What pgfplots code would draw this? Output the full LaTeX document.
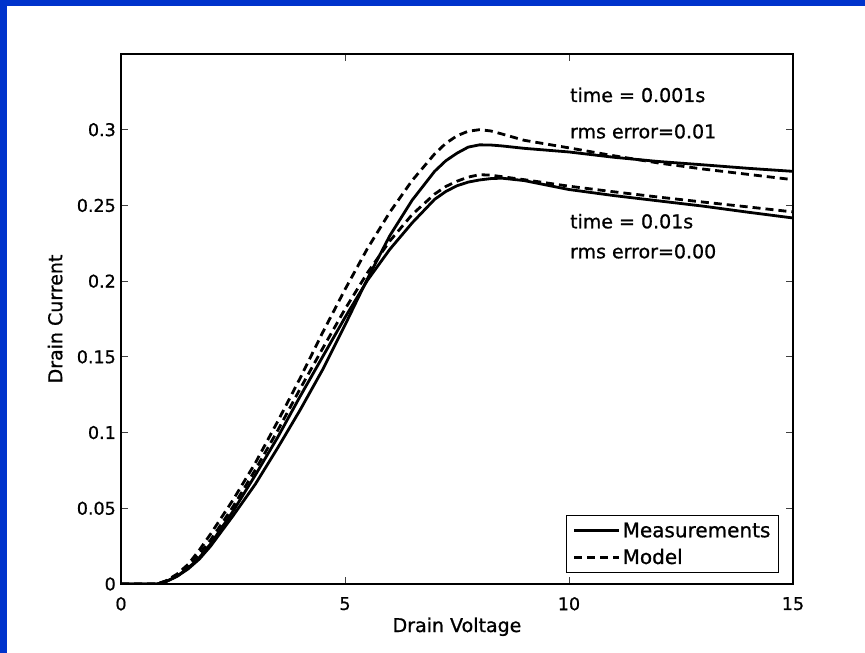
\documentclass[border=0pt]{standalone}
\usepackage{fontspec}
\setmainfont{DejaVu Sans}[FakeBold=0.9]
\usepackage{pgfplots}
\usepackage{pgfplotstable}
\pgfplotsset{compat=1.18}
\definecolor{slideblue}{RGB}{0,51,204}

% measurement, time = 0.001s
\pgfplotstableread{
x y
0 0
0.8 0
1.0 0.0015
1.25 0.005
1.5 0.010
1.75 0.0165
2.0 0.025
2.5 0.045
3.0 0.066
3.5 0.090
4.0 0.115
4.5 0.1415
5.0 0.171
5.5 0.2015
6.0 0.230
6.5 0.2535
7.0 0.2725
7.25 0.2795
7.5 0.2845
7.75 0.2885
8.0 0.290
8.25 0.2899
8.5 0.2893
9.0 0.2877
10.0 0.2853
11.0 0.2818
12.0 0.2790
13.0 0.2768
14.0 0.2745
15.0 0.2725
}\measA

% measurement, time = 0.01s
\pgfplotstableread{
x y
0 0
0.8 0
1.0 0.0015
1.25 0.0052
1.5 0.0105
1.75 0.0175
2.0 0.0265
2.5 0.048
3.0 0.072
3.5 0.097
4.0 0.124
4.5 0.150
5.0 0.176
5.5 0.2005
6.0 0.221
6.5 0.2385
7.0 0.2540
7.25 0.2592
7.5 0.2630
7.75 0.2654
8.0 0.2668
8.25 0.2677
8.5 0.2680
9.0 0.2664
10.0 0.2605
11.0 0.2565
12.0 0.2530
13.0 0.2495
14.0 0.2455
15.0 0.2417
}\measB

% model, time = 0.001s
\pgfplotstableread{
x y
0 0
0.8 0
1.0 0.002
1.25 0.0065
1.5 0.013
1.75 0.0225
2.0 0.033
2.5 0.0555
3.0 0.080
3.5 0.1075
4.0 0.136
4.5 0.166
5.0 0.1945
5.5 0.2215
6.0 0.2455
6.5 0.2665
7.0 0.2840
7.25 0.2910
7.5 0.2960
7.75 0.2990
8.0 0.3000
8.25 0.2992
8.5 0.2972
9.0 0.2930
10.0 0.2880
11.0 0.2828
12.0 0.2780
13.0 0.2740
14.0 0.2705
15.0 0.2670
}\modelA

% model, time = 0.01s
\pgfplotstableread{
x y
0 0
0.8 0
1.0 0.002
1.25 0.006
1.5 0.012
1.75 0.020
2.0 0.029
2.5 0.051
3.0 0.0755
3.5 0.1015
4.0 0.129
4.5 0.1555
5.0 0.1815
5.5 0.2055
6.0 0.2265
6.5 0.2440
7.0 0.2575
7.25 0.2625
7.5 0.2660
7.75 0.2687
8.0 0.2703
8.25 0.2700
8.5 0.2690
9.0 0.2670
10.0 0.2627
11.0 0.2590
12.0 0.2555
13.0 0.2522
14.0 0.2490
15.0 0.2457
}\modelB

\begin{document}
\begin{tikzpicture}
% slide background
\fill[white] (0,0) rectangle (865pt,653pt);
\fill[slideblue] (0,647pt) rectangle (865pt,653pt);
\fill[slideblue] (0,0) rectangle (7pt,653pt);

\begin{axis}[
    at={(121pt,69pt)}, anchor=south west,
    scale only axis, width=672pt, height=530pt,
    xmin=0, xmax=15, ymin=0, ymax=0.35,
    xtick={0,5,10,15},
    ytick={0,0.05,0.1,0.15,0.2,0.25,0.3},
    yticklabels={0,0.05,0.1,0.15,0.2,0.25,0.3},
    xticklabels={0,5,10,15},
    tick align=inside,
    major tick length=7pt,
    tick style={line width=0.8pt, black!75},
    axis line style={line width=1.6pt},
    ticklabel style={font=\fontsize{17.5}{20}\selectfont, inner sep=0pt},
    xticklabel style={anchor=north, yshift=-13pt},
    yticklabel style={anchor=east, xshift=-5pt},
    xlabel={Drain Voltage},
    ylabel={Drain Current},
    label style={font=\fontsize{19}{22}\selectfont},
    xlabel style={at={(axis description cs:0.5,-0.0906)}, anchor=base, inner sep=0pt},
    ylabel style={at={(axis description cs:-0.098,0.5)}, anchor=center, inner sep=0pt},
    legend style={at={(rel axis cs:0.979,0.0208)}, anchor=south east,
        draw=black, line width=1pt, font=\fontsize{20}{22}\selectfont,
        inner xsep=6pt, inner ysep=5pt, row sep=6pt},
    legend cell align=left,
    legend image code/.code={\draw[#1] (0pt,0pt) -- (45pt,0pt);},
]
\addplot[black, no markers, line width=2.8pt, solid] table {\measA};
\addlegendentry{Measurements}
\addplot[black, no markers, line width=2.8pt, dash pattern=on 8pt off 5pt] table {\modelA};
\addlegendentry{Model}
\addplot[forget plot, black, no markers, line width=2.8pt, solid] table {\measB};
\addplot[forget plot, black, no markers, line width=2.8pt, dash pattern=on 8pt off 5pt] table {\modelB};

\node[anchor=base west, font=\fontsize{19}{22}\selectfont, inner sep=0pt] at (axis cs:10.02,0.3183) {time = 0.001s};
\node[anchor=base west, font=\fontsize{19}{22}\selectfont, inner sep=0pt] at (axis cs:10.02,0.2943) {rms error=0.01};
\node[anchor=base west, font=\fontsize{19}{22}\selectfont, inner sep=0pt] at (axis cs:10.02,0.2349) {time = 0.01s};
\node[anchor=base west, font=\fontsize{19}{22}\selectfont, inner sep=0pt] at (axis cs:10.02,0.2151) {rms error=0.00};
\end{axis}
\end{tikzpicture}
\end{document}
